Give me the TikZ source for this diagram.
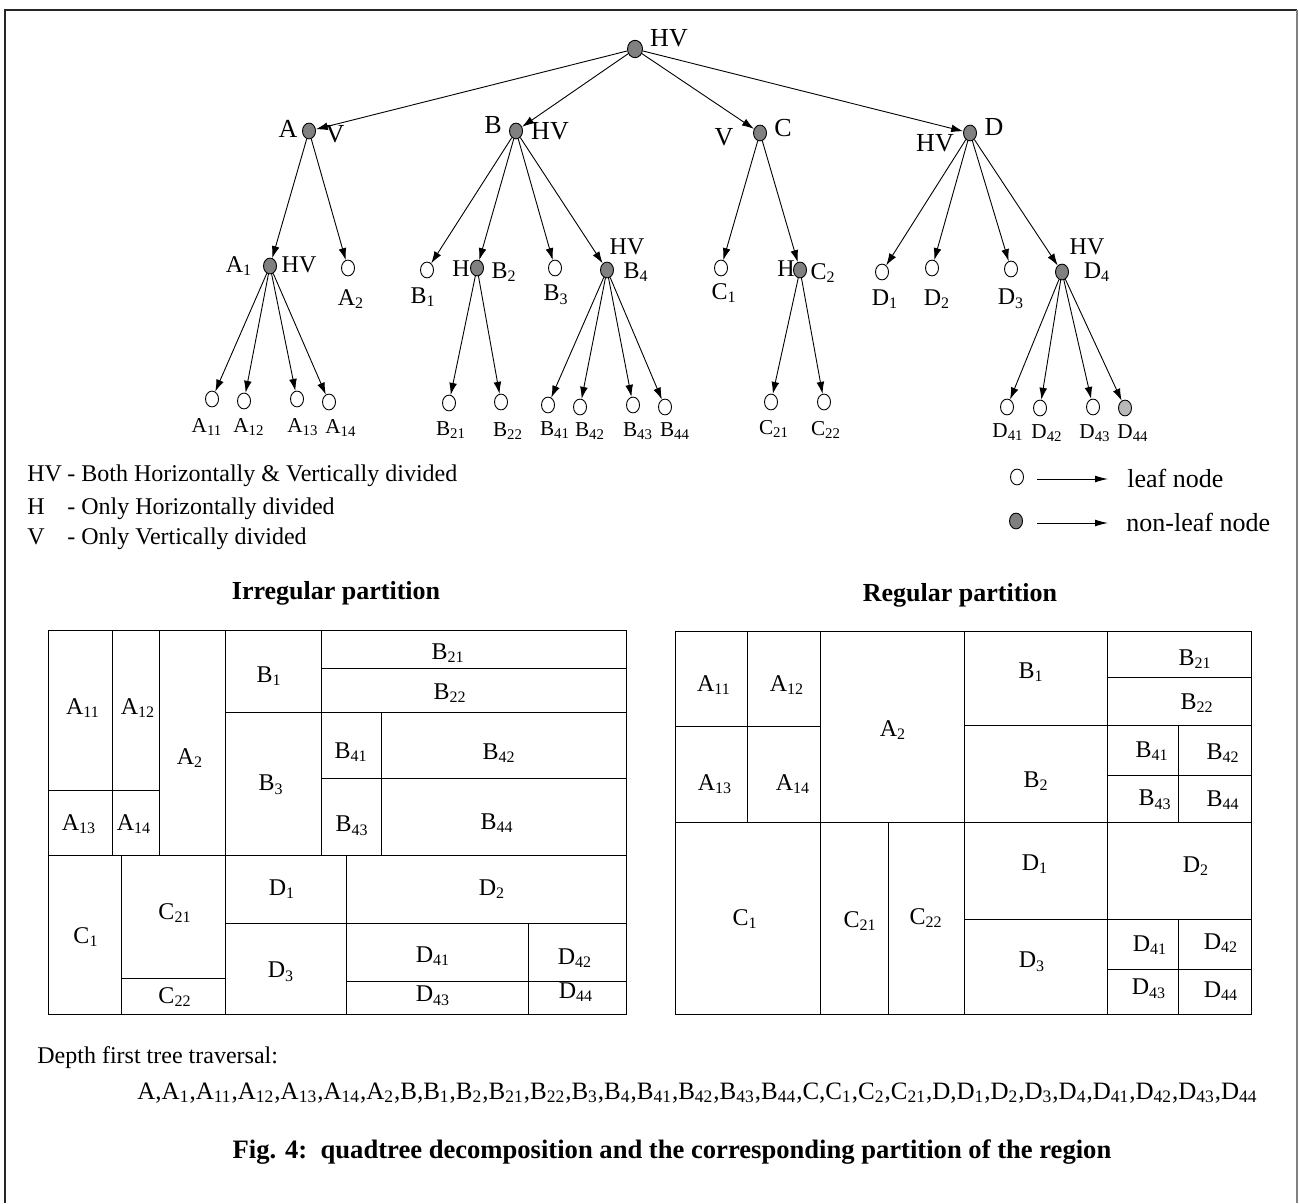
\documentclass[tikz,border=0pt]{standalone}
\usepackage{fontspec}
\setmainfont{Liberation Serif}
\usetikzlibrary{shapes.geometric,arrows.meta}
\newcommand{\qd}[2]{#1\textsubscript{#2}}
\definecolor{nodegray}{gray}{0.5}
\definecolor{paletone}{gray}{0.72}
\tikzset{
  leaf/.style={draw, ellipse, fill=white, line width=0.45pt, minimum width=6.5pt, minimum height=7.9pt, inner sep=0pt},
  inner/.style={leaf, fill=nodegray},
  branch/.style={-{Latex[length=6pt,width=3.9pt]}, line width=0.45pt},
  keyarrow/.style={-{Latex[length=6.5pt,width=3.4pt]}, line width=0.45pt},
  biglab/.style={font=\fontsize{13}{15}\selectfont, inner sep=0pt},
  midlab/.style={font=\fontsize{12}{14}\selectfont, inner sep=0pt},
  smalllab/.style={font=\fontsize{10.6}{12}\selectfont, inner sep=0pt},
  cell/.style={font=\fontsize{12}{14}\selectfont, inner sep=0pt},
  part/.style={line width=0.5pt},
  heading/.style={font=\fontsize{13}{15}\selectfont\bfseries, inner sep=0pt},
  note/.style={font=\fontsize{12}{14}\selectfont, inner sep=0pt, anchor=base west},
  keynote/.style={font=\fontsize{13}{15}\selectfont, inner sep=0pt, anchor=base west},
}
\begin{document}
\begin{tikzpicture}[x=0.5pt,y=-0.5pt]
\useasboundingbox (0,0) rectangle (1299,1203);
\draw[line width=0.8pt, black!85] (5,1203) -- (5,10) -- (1297,10);
\draw[line width=0.7pt, gray] (1297,10) -- (1297,1203);

% tree
\node[inner, minimum width=7.5pt, minimum height=8.7pt] (root) at (635,49) {};
\foreach \n/\x/\y in {A/309/131, B/516/131, C/760/133, D/970/133,
    A1/270/266, B2/477/268, B4/607/270, C2/800/270, D4/1062/272}
  \node[inner] (\n) at (\x,\y) {};
\foreach \n/\x/\y in {A2/348/268, B1/427/270, B3/555/268, C1/721/268,
    D1/882/272, D2/932/268, D3/1011/269,
    A11/212/399, A12/244/401, A13/297/399, A14/329/402,
    B21/449/403, B22/501/402, B41/548/405, B42/580/407, B43/633/405, B44/665/407,
    C21/771/402, C22/824/402, D41/1007/407, D42/1040/408, D43/1093/407}
  \node[leaf] (\n) at (\x,\y) {};
\node[leaf, fill=paletone] (D44) at (1125,408) {};

\foreach \p/\c in {root/A, root/B, root/C, root/D, A/A1, A/A2,
    A1/A11, A1/A12, A1/A13, A1/A14, B/B1, B/B2, B/B3, B/B4,
    B2/B21, B2/B22, B4/B41, B4/B42, B4/B43, B4/B44, C/C1, C/C2,
    C2/C21, C2/C22, D/D1, D/D2, D/D3, D/D4, D4/D41, D4/D42, D4/D43, D4/D44}
  \draw[branch] (\p) -- (\c);

\foreach \ty/\k/\x/\y in {HV/root/669/38, V/A/335/134, HV/B/550/131,
    V/C/724/137, HV/D/935/143}
  \node[biglab] (\k-type) at (\x,\y) {\ty};
\foreach \ty/\k/\x/\y in {HV/A1/299/265, H/B2/461/269, HV/B4/627/247,
    H/C2/786/269, HV/D4/1087/247}
  \node[midlab] (\k-type) at (\x,\y) {\ty};
\foreach \n/\x/\y in {A/288/129, B/493/125, C/783/128, D/994/127}
  \node[biglab] (\n-name) at (\x,\y) {\n};
\foreach \n/\s/\x/\y in {A/1/239/266, A/2/351/299, B/1/423/297, B/2/504/272,
    B/3/556/295, B/4/636/272, C/1/724/293, C/2/823/273,
    D/1/885/299, D/2/937/299, D/3/1011/299, D/4/1097/272}
  \node[midlab] (\n\s-name) at (\x,\y) {\qd{\n}{\s}};
\foreach \n/\s/\x/\y in {A/11/207/427, A/12/249/427, A/13/303/427, A/14/341/428,
    B/21/451/430, B/22/508/431, B/41/555/430, B/42/590/431, B/43/638/431, B/44/675/431,
    C/21/774/429, C/22/826/430, D/41/1008/432, D/42/1047/433, D/43/1095/433, D/44/1133/433}
  \node[smalllab] (\n\s-name) at (\x,\y) {\qd{\n}{\s}};

% legends
\foreach \ty/\d/\y in {HV/Both Horizontally \& Vertically divided/481,
    H/Only Horizontally divided/514, V/Only Vertically divided/544} {
  \node[note] (key-\ty) at (27,\y) {\ty};
  \node[note] (text-\ty) at (67,\y) {- \d};
}
\node[leaf] (leafkey) at (1017,477) {};
\node[inner] (innerkey) at (1016,521) {};
\coordinate (leafbeg) at (1037,479);
\coordinate (leafend) at (1108,479);
\coordinate (innerbeg) at (1037,523);
\coordinate (innerend) at (1108,523);
\draw[keyarrow] (leafbeg) -- (leafend);
\draw[keyarrow] (innerbeg) -- (innerend);
\node[keynote] (leaftext) at (1127,487) {leaf node};
\node[keynote] (innertext) at (1126,531) {non-leaf node};

% irregular partition
\node[heading] (irtitle) at (336,593) {Irregular partition};
\draw[part] (48,630) rectangle (626,1014);
\draw[part] (112,630) -- (112,855) (159,630) -- (159,855) (225,630) -- (225,1014)
  (321,630) -- (321,855) (381,712) -- (381,855) (121,855) -- (121,1014)
  (346,855) -- (346,1014) (528,923) -- (528,1014);
\draw[part] (48,855) -- (626,855) (48,790) -- (159,790) (321,668) -- (626,668)
  (225,712) -- (626,712) (321,778) -- (626,778) (121,978) -- (225,978)
  (225,923) -- (626,923) (346,981) -- (626,981);
\foreach \n/\s/\x/\y in {A/11/83/708, A/12/138/708, A/2/190/758, A/13/79/824, A/14/134/824,
    B/1/269/676, B/21/448/653, B/22/450/693, B/3/271/785, B/41/351/752, B/42/499/753,
    B/43/352/826, B/44/497/823, C/1/86/937, C/21/175/913, C/22/175/997,
    D/1/282/889, D/2/492/889, D/3/281/972, D/41/433/956, D/42/575/958, D/43/433/996, D/44/576/992}
  \node[cell] (ir-\n\s) at (\x,\y) {\qd{\n}{\s}};

% regular partition
\node[heading] (rgtitle) at (960,595) {Regular partition};
\draw[part] (675,631) rectangle (1251,1014);
\draw[part] (747,631) -- (747,822) (820,631) -- (820,1014) (964,631) -- (964,1014)
  (1107,631) -- (1107,1014) (1178,725) -- (1178,822) (888,822) -- (888,1014)
  (1178,919) -- (1178,1014);
\draw[part] (675,726) -- (820,726) (675,822) -- (1251,822) (1107,677) -- (1251,677)
  (964,725) -- (1251,725) (1107,775) -- (1251,775) (964,919) -- (1251,919)
  (1107,969) -- (1251,969);
\foreach \n/\s/\x/\y in {A/11/714/685, A/12/787/685, A/2/893/730, A/13/715/784, A/14/793/784,
    B/1/1031/672, B/21/1195/659, B/22/1197/703, B/2/1036/781, B/41/1152/751, B/42/1223/753,
    B/43/1155/800, B/44/1223/800, C/1/745/919, C/21/860/921, C/22/926/918,
    D/1/1035/864, D/2/1196/866, D/3/1032/962, D/41/1150/945, D/42/1221/943, D/43/1149/989, D/44/1221/991}
  \node[cell] (rg-\n\s) at (\x,\y) {\qd{\n}{\s}};

% traversal and caption
\node[note] (dfs) at (37,1063) {Depth first tree traversal:};
\node[note, font=\fontsize{12.5}{14}\selectfont] (order) at (137,1099) {A,\qd{A}{1},\qd{A}{11},\qd{A}{12},\qd{A}{13},\qd{A}{14},\qd{A}{2},B,\qd{B}{1},\qd{B}{2},\qd{B}{21},\qd{B}{22},\qd{B}{3},\qd{B}{4},\qd{B}{41},\qd{B}{42},\qd{B}{43},\qd{B}{44},C,\qd{C}{1},\qd{C}{2},\qd{C}{21},D,\qd{D}{1},\qd{D}{2},\qd{D}{3},\qd{D}{4},\qd{D}{41},\qd{D}{42},\qd{D}{43},\qd{D}{44}};
\node[heading, font=\fontsize{13.3}{15}\selectfont\bfseries] (caption) at (672,1152) {Fig. 4:\ \ quadtree decomposition and the corresponding partition of the region};
\end{tikzpicture}
\end{document}
